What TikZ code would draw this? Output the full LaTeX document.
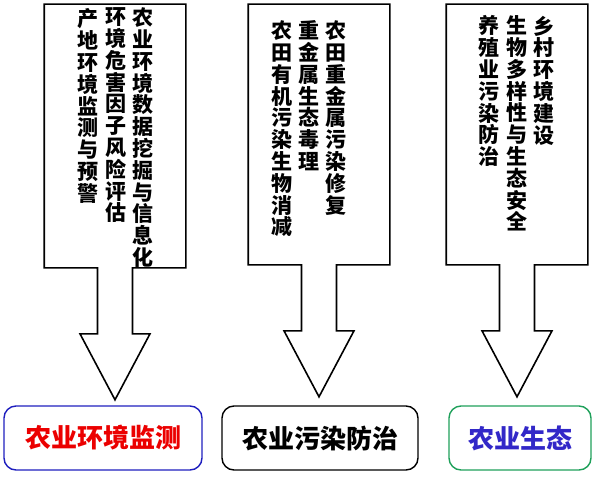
\documentclass[tikz,border=0pt]{standalone}
\usepackage{fontspec}
\usepackage{xcolor}
\usepackage{tikz}
\usetikzlibrary{calc}
\newfontfamily\cjk{Noto Sans CJK SC}

\definecolor{boxblue}{RGB}{30,30,190}
\definecolor{boxgreen}{RGB}{30,160,90}
\definecolor{textred}{RGB}{235,0,0}
\definecolor{textblue}{RGB}{50,40,200}

% one character per line, top to bottom
\makeatletter
\newcommand\vcol[1]{\vcol@a#1\@nil}
\def\vcol@a#1#2\@nil{#1\ifx\relax#2\relax\expandafter\@gobble\else\expandafter\@firstofone\fi{\\\vcol@a#2\@nil}}
\makeatother

% box with a block arrow hanging below it
\newcommand\dropbox[1]{%
  \draw (#1.north west) -- (#1.north east) -- (#1.south east)
    -- ($(#1.south)+(17.5,0)$) -- ++(0,66) -- ++(17.5,0)
    -- ($(#1.south)+(0,132)$)
    -- ($(#1.south)+(-35,66)$) -- ++(17.5,0)
    -- ($(#1.south)+(-17.5,0)$) -- (#1.south west) -- cycle;}

\begin{document}
\begin{tikzpicture}[x=1pt, y=-1pt, line width=1.6pt,
    topbox/.style = {minimum width=140pt, inner sep=0pt},
    vcolumn/.style = {anchor=north, inner sep=0pt, align=center, font=\cjk\bfseries\fontsize{21}{21.8}\selectfont},
    goal/.style = {draw, line width=1.4pt, rounded corners=12pt, minimum height=64pt, inner sep=0pt, font=\cjk\bfseries\fontsize{26}{26}\selectfont}]
    \useasboundingbox (0,0) rectangle (604,476);
    \node[topbox, minimum height=262pt] (mon) at (115,136) {};
    \node[topbox, minimum height=259pt] (pol) at (319,134.5) {};
    \node[topbox, minimum height=259pt] (eco) at (517,134.5) {};
    \foreach \b in {mon,pol,eco} \dropbox{\b};
    \node[vcolumn] (mon1) at (142.5,7) {\vcol{农业环境数据挖掘与信息化}};
    \node[vcolumn] (mon2) at (115.5,7) {\vcol{环境危害因子风险评估}};
    \node[vcolumn] (mon3) at (88,8) {\vcol{产地环境监测与预警}};
    \node[vcolumn] (pol1) at (336,20) {\vcol{农田重金属污染修复}};
    \node[vcolumn] (pol2) at (309,20) {\vcol{重金属生态毒理}};
    \node[vcolumn] (pol3) at (282,20) {\vcol{农田有机污染生物消减}};
    \node[vcolumn] (eco1) at (544,15) {\vcol{乡村环境建设}};
    \node[vcolumn] (eco2) at (517,15) {\vcol{生物多样性与生态安全}};
    \node[vcolumn] (eco3) at (489,15) {\vcol{养殖业污染防治}};
    \node[goal, draw=boxblue, text=textred, minimum width=198pt] (monG) at (103,438) {农业环境监测};
    \node[goal, minimum width=196pt] (polG) at (320,438) {农业污染防治};
    \node[goal, draw=boxgreen, text=textblue, minimum width=142pt] (ecoG) at (520,438) {农业生态};
\end{tikzpicture}
\end{document}
